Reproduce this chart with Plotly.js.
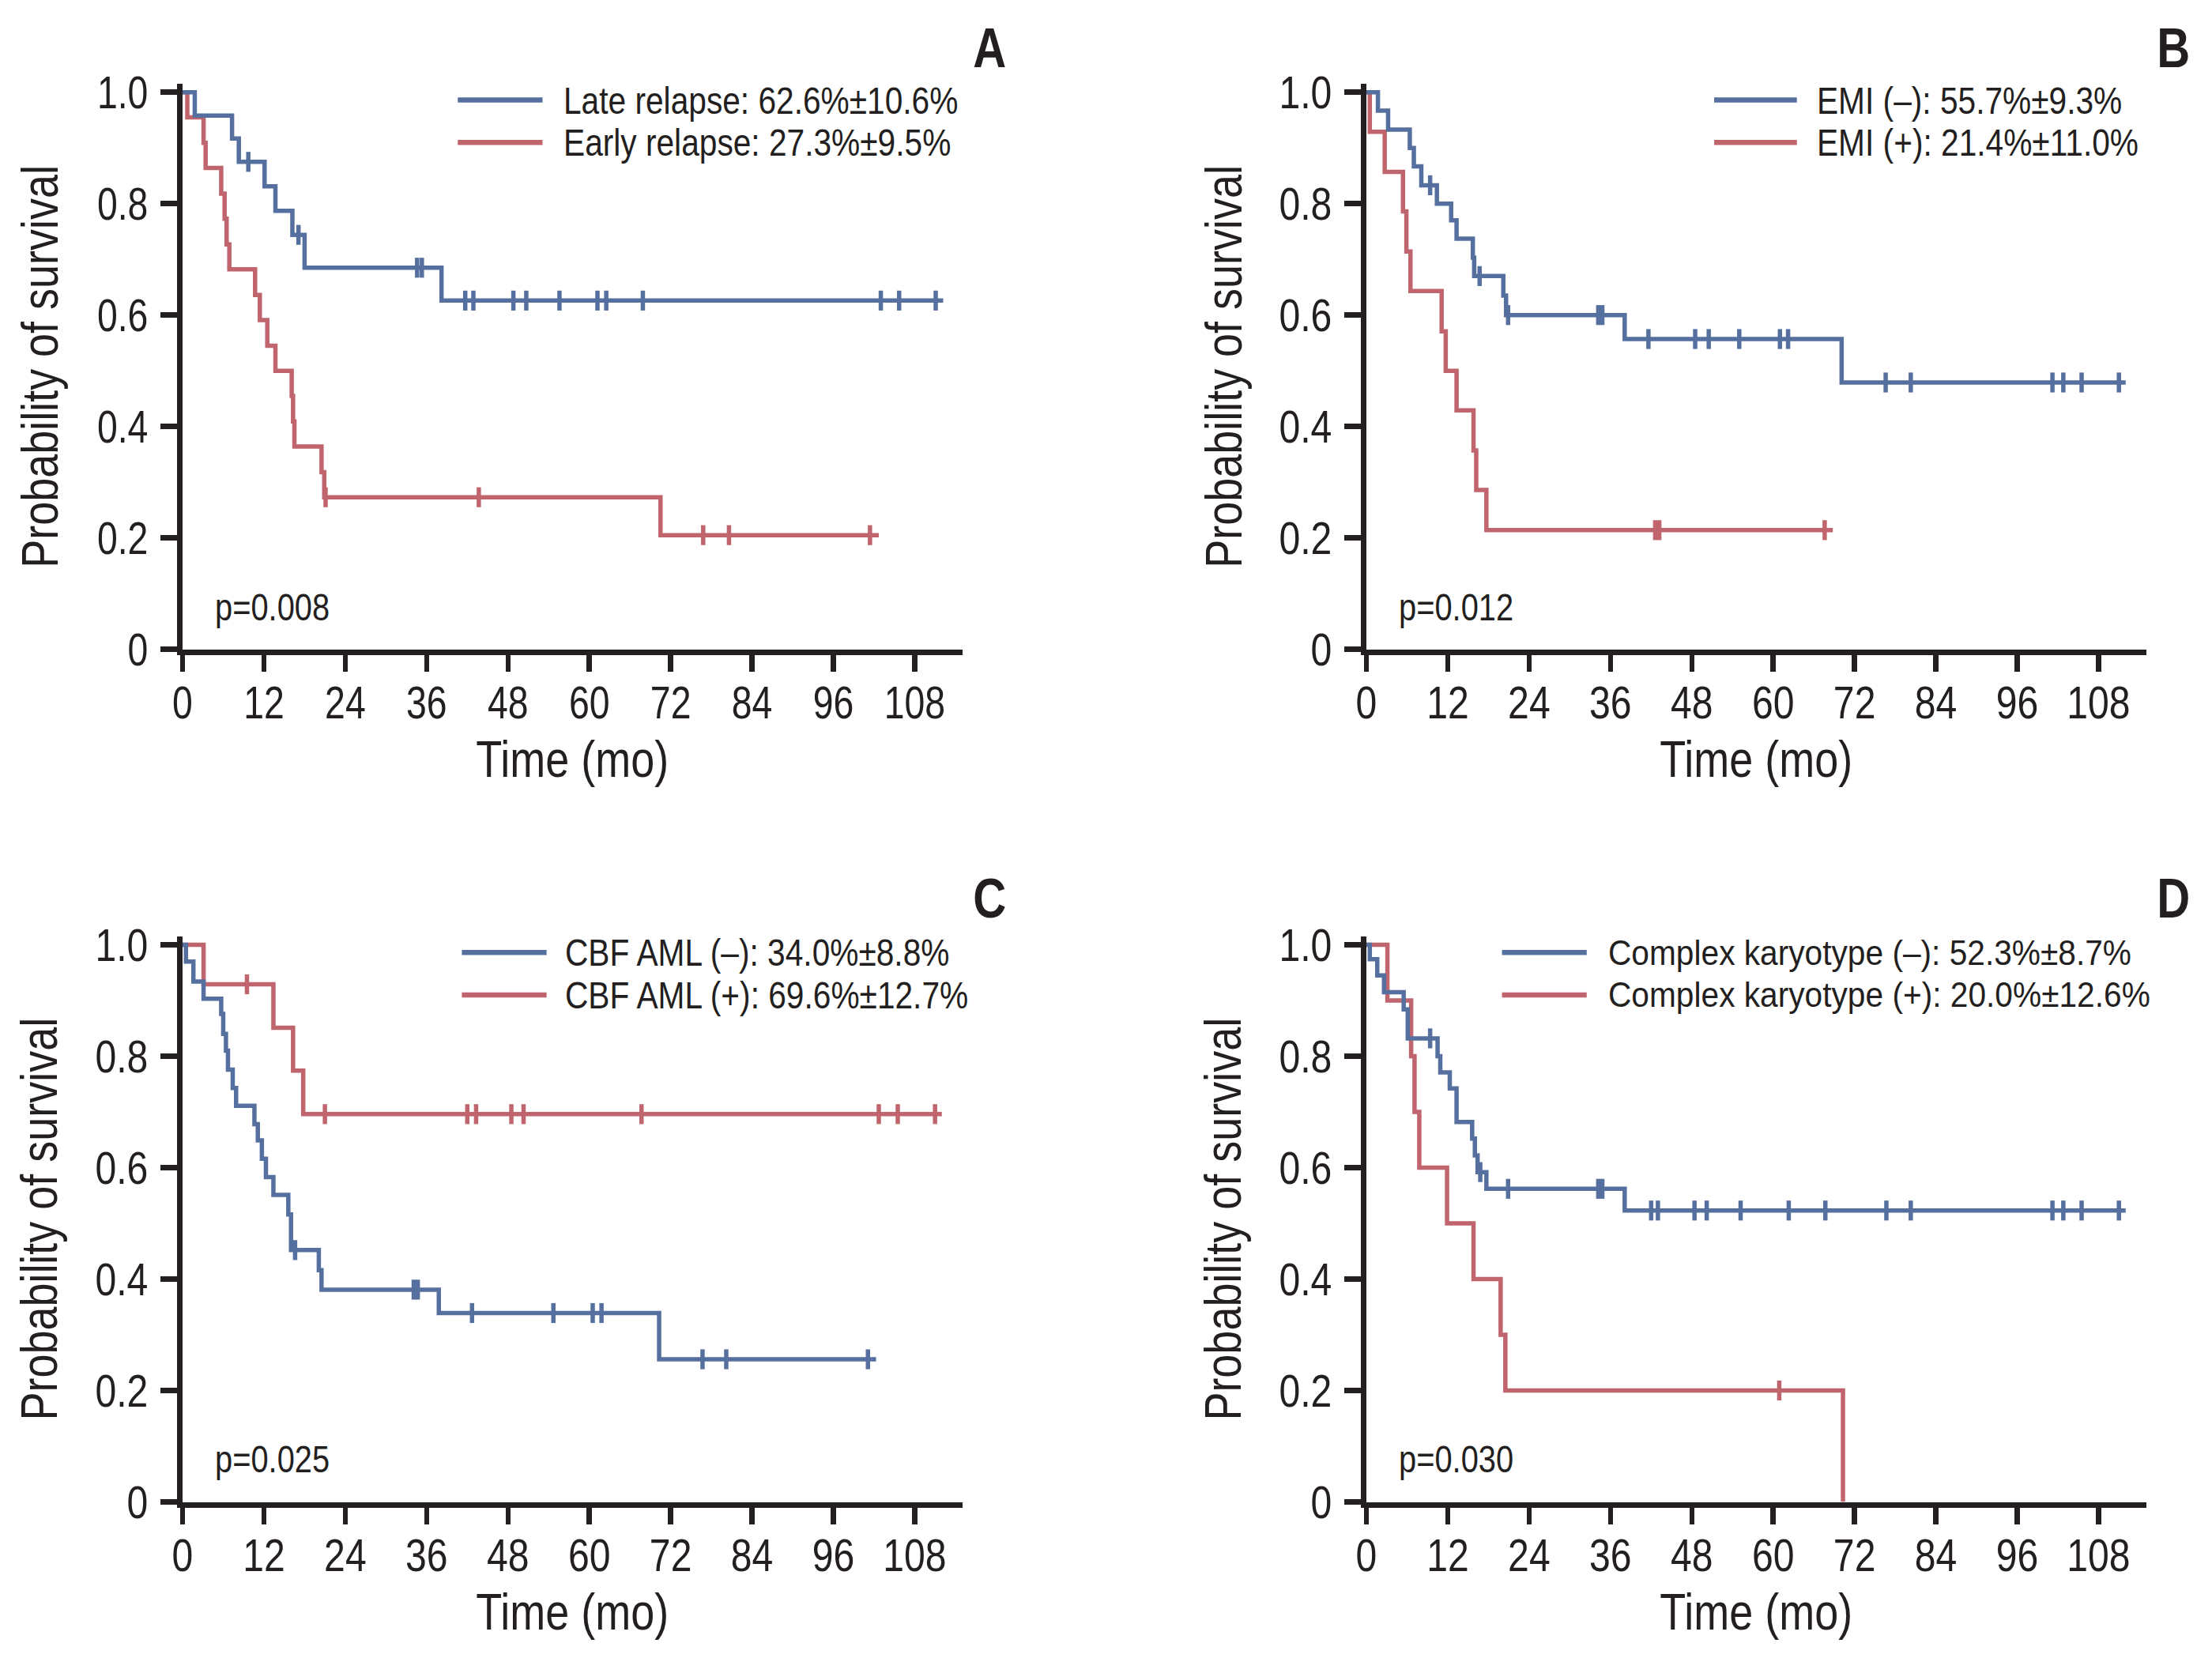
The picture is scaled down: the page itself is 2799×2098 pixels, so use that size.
<!DOCTYPE html>
<html>
<head>
<meta charset="utf-8">
<script src="https://cdn.plot.ly/plotly-3.0.1.min.js"></script>
<style>
  html, body { margin: 0; padding: 0; background: #ffffff; }
  #chart { width: 2799px; height: 2098px; }
</style>
</head>
<body>
<div id="chart"></div>
<script>
// ---------------- DATA ----------------
// Panel A
const aLateTimes  = [0, 1.8, 7.3, 8.3, 12.1, 13.7, 16.2, 18.0, 38.2, 112.2];
const aLateSurv   = [1.0, 0.958, 0.917, 0.875, 0.831, 0.787, 0.744, 0.685, 0.626, 0.626];
const aLateCens   = [9.7, 17.1, 34.6, 35.3, 41.7, 42.9, 48.8, 50.7, 55.6, 61.2, 62.5, 67.9, 103.0, 105.7, 111.1];
const aEarlyTimes = [0, 0.7, 3.1, 3.4, 5.7, 6.2, 6.5, 6.9, 10.7, 11.4, 12.5, 13.7, 16.1, 16.3, 16.5, 20.5, 20.9, 70.5, 102.7];
const aEarlySurv  = [1.0, 0.955, 0.909, 0.864, 0.818, 0.773, 0.727, 0.682, 0.636, 0.591, 0.545, 0.5, 0.455, 0.409, 0.364, 0.318, 0.273, 0.205, 0.205];
const aEarlyCens  = [21.1, 43.7, 76.8, 80.6, 101.4];
// Panel B
const bNegTimes = [0, 1.7, 3.2, 6.4, 7.0, 8.1, 10.4, 12.5, 13.3, 15.7, 15.9, 20.2, 20.6, 38.1, 70.1, 112.0];
const bNegSurv  = [1.0, 0.967, 0.933, 0.9, 0.867, 0.833, 0.8, 0.77, 0.737, 0.703, 0.67, 0.635, 0.6, 0.557, 0.479, 0.479];
const bNegCens  = [9.4, 16.7, 20.9, 34.2, 34.8, 41.6, 48.5, 50.5, 55.0, 61.0, 62.2, 76.6, 80.3, 101.2, 102.8, 105.5, 111.0];
const bPosTimes = [0, 0.5, 2.7, 5.4, 5.9, 6.5, 11.1, 11.7, 13.3, 15.8, 16.2, 17.7, 68.8];
const bPosSurv  = [1.0, 0.929, 0.857, 0.786, 0.714, 0.643, 0.571, 0.5, 0.429, 0.357, 0.286, 0.214, 0.214];
const bPosCens  = [42.6, 43.2, 67.6];
// Panel C
const cNegTimes = [0, 0.5, 1.6, 3.1, 5.7, 6.0, 6.4, 6.7, 7.4, 7.9, 10.6, 11.1, 11.7, 12.3, 13.4, 15.6, 16.0, 20.1, 20.5, 37.8, 70.3, 102.3];
const cNegSurv  = [1.0, 0.97, 0.934, 0.903, 0.876, 0.84, 0.81, 0.776, 0.743, 0.711, 0.678, 0.649, 0.616, 0.583, 0.551, 0.516, 0.452, 0.416, 0.381, 0.339, 0.256, 0.256];
const cNegCens  = [16.6, 34.1, 34.7, 42.7, 54.7, 60.5, 61.8, 76.7, 80.2, 101.1];
const cPosTimes = [0, 3.1, 13.4, 16.3, 17.8, 112.0];
const cPosSurv  = [1.0, 0.929, 0.851, 0.774, 0.696, 0.696];
const cPosCens  = [9.5, 21.0, 42.0, 43.3, 48.5, 50.3, 67.7, 102.7, 105.5, 111.0];
// Panel D
const dNegTimes = [0, 0.5, 1.6, 2.6, 5.5, 6.1, 10.5, 10.9, 12.3, 13.3, 15.6, 16.0, 16.4, 17.7, 38.1, 112.0];
const dNegSurv  = [1.0, 0.974, 0.945, 0.915, 0.884, 0.832, 0.8, 0.771, 0.742, 0.682, 0.652, 0.622, 0.592, 0.562, 0.523, 0.523];
const dNegCens  = [9.4, 16.8, 20.9, 34.2, 34.8, 42.0, 43.0, 48.4, 50.2, 55.2, 62.3, 67.7, 76.7, 80.3, 101.2, 102.8, 105.5, 111.0];
const dPosTimes = [0, 3.1, 6.6, 7.1, 7.8, 11.9, 15.8, 19.8, 20.5, 70.3];
const dPosSurv  = [1.0, 0.9, 0.8, 0.7, 0.6, 0.5, 0.4, 0.3, 0.2, 0.0];
const dPosCens  = [60.9];

// Labels
const panelLetters = ["A", "B", "C", "D"];
const blueLabels = ["Late relapse: 62.6%±10.6%", "EMI (–): 55.7%±9.3%", "CBF AML (–): 34.0%±8.8%", "Complex karyotype (–): 52.3%±8.7%"];
const redLabels  = ["Early relapse: 27.3%±9.5%", "EMI (+): 21.4%±11.0%", "CBF AML (+): 69.6%±12.7%", "Complex karyotype (+): 20.0%±12.6%"];
const pValues    = ["p=0.008", "p=0.012", "p=0.025", "p=0.030"];
const xTickVals  = [0, 12, 24, 36, 48, 60, 72, 84, 96, 108];
const yTickVals  = [0, 0.2, 0.4, 0.6, 0.8, 1.0];
const yTickText  = ["0", "0.2", "0.4", "0.6", "0.8", "1.0"];
const xTitle = "Time (mo)";
const yTitle = "Probability of survival";

// ---------------- STYLE ----------------
const BLUE = "#55709f";
const RED = "#c0646d";
const INK = "#231f20";
const FONT = "'Liberation Sans', Arial, sans-serif";
const SQUEEZE_TICK = 0.80;   // condensed look of the original typeface
const SQUEEZE_TEXT = 0.83;
const LEGEND_SIZE = [49, 49, 49, 45];

function stepAt(t, times, surv) {
  let v = surv[0];
  for (let i = 0; i < times.length; i++) { if (times[i] <= t) v = surv[i]; }
  return v;
}

const groups = [
  { blue: [aLateTimes, aLateSurv, aLateCens], red: [aEarlyTimes, aEarlySurv, aEarlyCens] },
  { blue: [bNegTimes, bNegSurv, bNegCens], red: [bPosTimes, bPosSurv, bPosCens] },
  { blue: [cNegTimes, cNegSurv, cNegCens], red: [cPosTimes, cPosSurv, cPosCens] },
  { blue: [dNegTimes, dNegSurv, dNegCens], red: [dPosTimes, dPosSurv, dPosCens] }
];

const traces = [];
groups.forEach((g, i) => {
  const xa = i === 0 ? "x" : "x" + (i + 1);
  const ya = i === 0 ? "y" : "y" + (i + 1);
  [["red", RED, redLabels[i]], ["blue", BLUE, blueLabels[i]]].forEach(([key, col, name]) => {
    const [t, s, c] = g[key];
    traces.push({
      type: "scatter", mode: "lines", x: t, y: s, xaxis: xa, yaxis: ya,
      line: { shape: "hv", color: col, width: 5.5 }, name: name, showlegend: false, hoverinfo: "skip"
    });
    traces.push({
      type: "scatter", mode: "markers", x: c, y: c.map(v => stepAt(v, t, s)), xaxis: xa, yaxis: ya,
      marker: { symbol: "line-ns", size: 18, color: col, line: { color: col, width: 5.5 } },
      showlegend: false, hoverinfo: "skip", cliponaxis: false
    });
  });
});

// ---------------- LAYOUT ----------------
const W = 2799, H = 2098;
const xDomL = [231 / W, 1217.5 / W];
const xDomR = [1729 / W, 2715.5 / W];
const yDomT = [(H - 821.7) / H, (H - 106.1) / H];
const yDomB = [(H - 1900.5) / H, (H - 1184.9) / H];

function xAxis(dom, anchor) {
  return {
    domain: dom, anchor: anchor, range: [0, 115], showgrid: false, zeroline: false,
    showline: true, linecolor: INK, linewidth: 7,
    ticks: "outside", ticklen: 21, tickwidth: 6.5, tickcolor: INK,
    tickvals: xTickVals, ticktext: xTickVals.map(String),
    tickfont: { family: FONT, size: 58, color: INK }, ticklabelstandoff: -10,
    title: { text: xTitle, font: { family: FONT, size: 65, color: INK }, standoff: 20 },
    fixedrange: true
  };
}
function yAxis(dom, anchor) {
  return {
    domain: dom, anchor: anchor, range: [0, 1.015], showgrid: false, zeroline: false,
    showline: true, linecolor: INK, linewidth: 7,
    ticks: "outside", ticklen: 21, tickwidth: 6.5, tickcolor: INK,
    tickvals: yTickVals, ticktext: yTickText,
    tickfont: { family: FONT, size: 58, color: INK }, ticklabelstandoff: 4,
    title: { text: yTitle, font: { family: FONT, size: 65, color: INK }, standoff: 15 },
    fixedrange: true
  };
}

// legend positions (data units of each subplot)
const legendPos = [
  { x0: 40.6, x1: 53.1, tx: 56.0 },
  { x0: 51.3, x1: 63.5, tx: 66.2 },
  { x0: 41.2, x1: 53.7, tx: 56.2 },
  { x0: 20.0, x1: 32.5, tx: 35.4 }
];
const legendRowY = [0.986, 0.910];
const letterPos = [[1252, 61], [2750, 61], [1252, 1137], [2750, 1137]];

const shapes = [];
const annotations = [];
const squeezeOf = [];
for (let i = 0; i < 4; i++) {
  const xr = i === 0 ? "x" : "x" + (i + 1);
  const yr = i === 0 ? "y" : "y" + (i + 1);
  const lp = legendPos[i];
  [[BLUE, blueLabels[i], legendRowY[0]], [RED, redLabels[i], legendRowY[1]]].forEach(([col, txt, yy]) => {
    shapes.push({ type: "line", xref: xr, yref: yr, x0: lp.x0, x1: lp.x1, y0: yy, y1: yy, line: { color: col, width: 6.5 } });
    annotations.push({ xref: xr, yref: yr, x: lp.tx, y: yy, text: txt, showarrow: false, xanchor: "left", yanchor: "middle",
      font: { family: FONT, size: LEGEND_SIZE[i], color: INK } });
    squeezeOf.push(SQUEEZE_TEXT * 49 / LEGEND_SIZE[i]);
  });
  annotations.push({ xref: xr, yref: yr, x: 4.6, y: 0.076, text: pValues[i], showarrow: false, xanchor: "left", yanchor: "middle",
    font: { family: FONT, size: 48, color: INK } });
  squeezeOf.push(SQUEEZE_TEXT);
  annotations.push({ xref: "paper", yref: "paper", x: letterPos[i][0] / W, y: 1 - letterPos[i][1] / H, text: "<b>" + panelLetters[i] + "</b>",
    showarrow: false, xanchor: "center", yanchor: "middle", font: { family: FONT, size: 70, color: INK } });
  squeezeOf.push(SQUEEZE_TEXT);
}

const layout = {
  width: W, height: H, margin: { l: 0, r: 0, t: 0, b: 0 },
  paper_bgcolor: "#ffffff", plot_bgcolor: "#ffffff", showlegend: false,
  xaxis: xAxis(xDomL, "y"), yaxis: yAxis(yDomT, "x"),
  xaxis2: xAxis(xDomR, "y2"), yaxis2: yAxis(yDomT, "x2"),
  xaxis3: xAxis(xDomL, "y3"), yaxis3: yAxis(yDomB, "x3"),
  xaxis4: xAxis(xDomR, "y4"), yaxis4: yAxis(yDomB, "x4"),
  shapes: shapes, annotations: annotations
};

// Condense the rendered text horizontally (the original uses a condensed typeface,
// none of which is installed): shrink each text's advance width, keeping its anchor side.
function squeeze(el, f, keepLeft) {
  if (!el.textContent || !el.textContent.trim()) return;
  let len = 0;
  try { len = el.getComputedTextLength(); } catch (e) { len = 0; }
  if (!(len > 0)) return;
  el.setAttribute("textLength", (len * f).toFixed(2));
  el.setAttribute("lengthAdjust", "spacingAndGlyphs");
  if (keepLeft) {
    const anchor = window.getComputedStyle(el).textAnchor || el.getAttribute("text-anchor") || "start";
    let dx = 0;
    if (anchor === "middle") dx = -len * (1 - f) / 2;
    else if (anchor === "end") dx = -len * (1 - f);
    if (dx !== 0) {
      const x0 = parseFloat(el.getAttribute("x") || "0");
      el.setAttribute("x", (x0 + dx).toFixed(2));
    }
  }
}
function condenseText(gd) {
  gd.querySelectorAll(".annotation").forEach(g => {
    const idx = parseInt(g.getAttribute("data-index"), 10);
    const a = annotations[idx];
    const el = g.querySelector("text");
    if (!el || !a) return;
    squeeze(el, squeezeOf[idx], a.xanchor === "left");
  });
  gd.querySelectorAll("svg text").forEach(el => {
    if (el.closest(".annotation")) return;
    const isTick = !!el.closest(".xtick, .ytick");
    squeeze(el, isTick ? SQUEEZE_TICK : SQUEEZE_TEXT, false);
  });
}

Plotly.newPlot("chart", traces, layout, { staticPlot: true, displayModeBar: false })
  .then(gd => condenseText(gd));
</script>
</body>
</html>
